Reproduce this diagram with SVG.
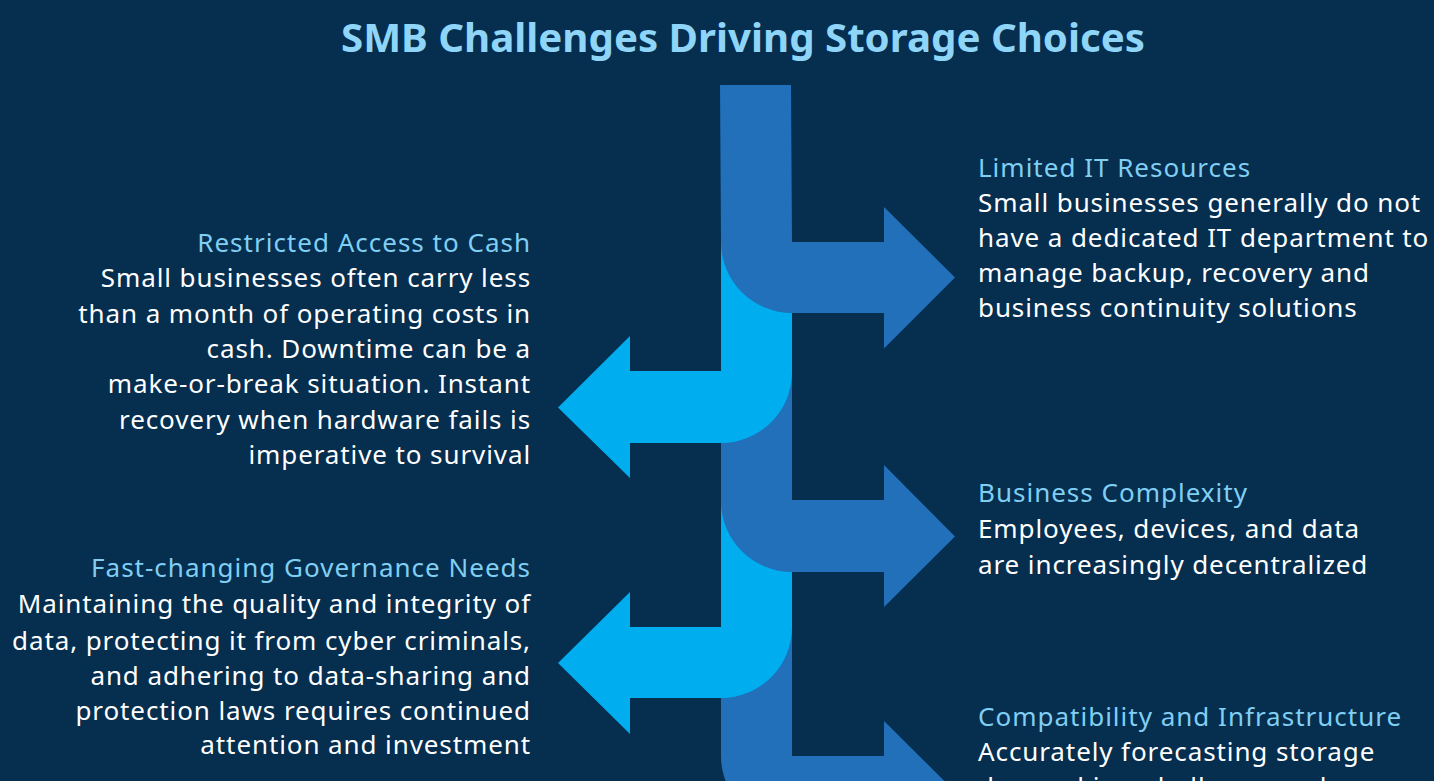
<svg xmlns="http://www.w3.org/2000/svg" width="1434" height="781" viewBox="0 0 1434 781">
<style>
.bg{fill:#052e4f}
.dark{fill:#2170b9}
.light{fill:#00aeef}
.title{font-family:"Noto Sans","Open Sans",sans-serif;font-weight:700;font-size:40px;fill:#8fd5f8}
.h{font-family:"Noto Sans","Open Sans",sans-serif;font-size:26px;letter-spacing:1px;fill:#80cff3}
.b{font-family:"Noto Sans","Open Sans",sans-serif;font-size:26px;letter-spacing:0.9px;fill:#ffffff}
.r{text-anchor:end}
</style>
<rect class="bg" x="0" y="0" width="1434" height="781"/>
<text class="title" x="743" y="52" text-anchor="middle" textLength="804" lengthAdjust="spacingAndGlyphs">SMB Challenges Driving Storage Choices</text>
<g id="arrows">
<path id="arrow-compat" class="dark" d="M721,627 L792,627 L792,756 L884,756 L884,721 L955,791.5 L884,862 L884,827 L792,827 A71,71 0 0 1 721,756 Z"/>
<path id="arrow-gov" class="light" d="M721,500 L792,500 L792,627 A71,71 0 0 1 721,698 L630,698 L630,734 L558,663 L630,592 L630,627 L721,627 Z"/>
<path id="arrow-complex" class="dark" d="M721,371 L792,371 L792,500 L884,500 L884,465 L955,536.5 L884,607 L884,572 L792,572 A71,71 0 0 1 721,501 Z"/>
<path id="arrow-cash" class="light" d="M721,242 L792,242 L792,372 A71,71 0 0 1 721,443 L630,443 L630,478 L558,407.5 L630,336 L630,371 L721,371 Z"/>
<path id="arrow-it" class="dark" d="M720,85 L791,85 L792,242 L884,242 L884,207 L955,277.5 L884,348.5 L884,313 L792,313 A71,71 0 0 1 721,242 Z"/>
</g>
<g id="node-it">
<text class="h" x="978" y="177">Limited IT Resources</text>
<text class="b" x="978" y="212">Small businesses generally do not</text>
<text class="b" x="978" y="247">have a dedicated IT department to</text>
<text class="b" x="978" y="282">manage backup, recovery and</text>
<text class="b" x="978" y="317">business continuity solutions</text>
</g>
<g id="node-cash">
<text class="h r" x="531" y="252">Restricted Access to Cash</text>
<text class="b r" x="531" y="287">Small businesses often carry less</text>
<text class="b r" x="531" y="323">than a month of operating costs in</text>
<text class="b r" x="531" y="358">cash. Downtime can be a</text>
<text class="b r" x="531" y="393">make-or-break situation. Instant</text>
<text class="b r" x="531" y="429">recovery when hardware fails is</text>
<text class="b r" x="531" y="464">imperative to survival</text>
</g>
<g id="node-complex">
<text class="h" x="978" y="502">Business Complexity</text>
<text class="b" x="978" y="538">Employees, devices, and data</text>
<text class="b" x="978" y="574">are increasingly decentralized</text>
</g>
<g id="node-gov">
<text class="h r" x="531" y="577">Fast-changing Governance Needs</text>
<text class="b r" x="531" y="613">Maintaining the quality and integrity of</text>
<text class="b r" x="531" y="650">data, protecting it from cyber criminals,</text>
<text class="b r" x="531" y="685">and adhering to data-sharing and</text>
<text class="b r" x="531" y="720">protection laws requires continued</text>
<text class="b r" x="531" y="754">attention and investment</text>
</g>
<g id="node-compat">
<text class="h" x="978" y="726">Compatibility and Infrastructure</text>
<text class="b" x="978" y="761">Accurately forecasting storage</text>
<text class="b" x="978" y="796">demand is a challenge and</text>
</g>
</svg>
